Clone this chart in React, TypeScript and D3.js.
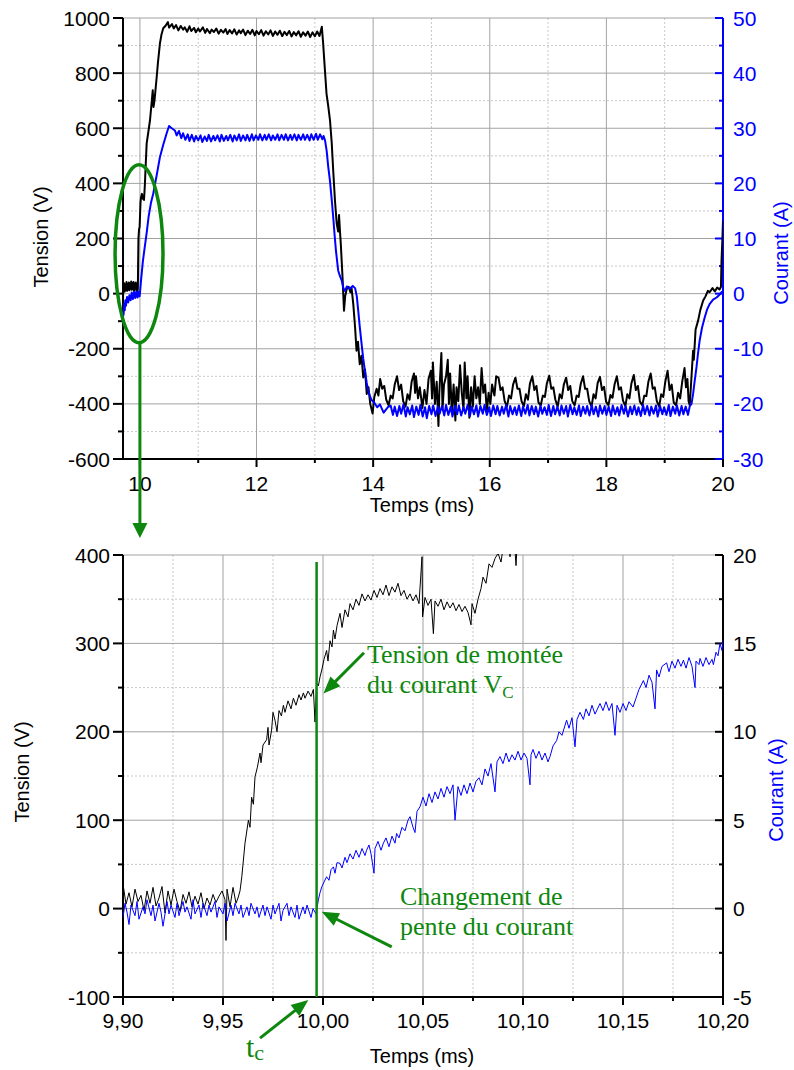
import React from "react";
import * as d3 from "d3";

type Pt = [number, number];

// ---------------- TOP CHART DATA ----------------
const topXDomain: [number, number] = [9.71, 20];
const topVDomain: [number, number] = [-600, 1000];
const topIDomain: [number, number] = [-30, 50];
const topXMajor = [10, 12, 14, 16, 18, 20];
const topXMinor = [11, 13, 15, 17, 19];
const topVMajor = [-600, -400, -200, 0, 200, 400, 600, 800, 1000];
const topVMinor = [-500, -300, -100, 100, 300, 500, 700, 900];
const topIMajor = [-30, -20, -10, 0, 10, 20, 30, 40, 50];
const topIMinor = [-25, -15, -5, 5, 15, 25, 35, 45];

const topVoltage: Pt[] = [
  [9.71, -25], [9.715, 28], [9.72, 5], [9.73, 38], [9.74, 8], [9.75, 32], [9.76, 12], [9.77, 42], [9.78, 10], [9.79, 35],
  [9.8, 15], [9.81, 40], [9.82, 12], [9.83, 36], [9.84, 18], [9.85, 44], [9.86, 14], [9.87, 38], [9.88, 16], [9.89, 42],
  [9.9, 10], [9.91, 36], [9.92, 18], [9.93, 40], [9.94, 12], [9.95, 34], [9.96, 8], [9.965, 20],
  [9.97, 120], [9.975, 200], [9.985, 232], [9.995, 243], [10.0, 270], [10.01, 330], [10.02, 350], [10.035, 362],
  [10.05, 345], [10.07, 340], [10.085, 395], [10.1, 470], [10.116, 545], [10.14, 580], [10.173, 629], [10.2, 690],
  [10.22, 738], [10.233, 677], [10.25, 700], [10.288, 786], [10.31, 840], [10.344, 909], [10.37, 940], [10.4, 963],
  [10.44, 972], [10.48, 985], [10.5, 965],
  [10.55, 978], [10.58, 962], [10.62, 974], [10.66, 955], [10.7, 971], [10.74, 958], [10.77, 966], [10.81, 950],
  [10.85, 970], [10.88, 953], [10.93, 964], [10.96, 948], [11.0, 962], [11.03, 951], [11.08, 966], [11.12, 946],
  [11.15, 960], [11.2, 945], [11.23, 958], [11.27, 949], [11.31, 962], [11.35, 943], [11.39, 957], [11.43, 947],
  [11.47, 960], [11.5, 942], [11.54, 956], [11.58, 944], [11.62, 959], [11.66, 940], [11.7, 955], [11.73, 945],
  [11.77, 958], [11.81, 938], [11.85, 954], [11.89, 942], [11.93, 957], [11.97, 937], [12.0, 953], [12.04, 941],
  [12.08, 956], [12.12, 936], [12.16, 952], [12.2, 940], [12.24, 955], [12.28, 935], [12.32, 951], [12.36, 939],
  [12.4, 954], [12.44, 934], [12.48, 950], [12.52, 938], [12.56, 953], [12.6, 933], [12.64, 949], [12.68, 937],
  [12.72, 952], [12.76, 932], [12.8, 948], [12.84, 936], [12.88, 951], [12.92, 931], [12.96, 948], [13.0, 934],
  [13.04, 951], [13.08, 935], [13.12, 968],
  [13.14, 915], [13.17, 820], [13.2, 726], [13.23, 680], [13.26, 629], [13.29, 545], [13.315, 447], [13.345, 338],
  [13.375, 254], [13.4, 225], [13.415, 285], [13.43, 230], [13.445, 181], [13.475, 59], [13.5, -62], [13.52, -10],
  [13.545, 15], [13.58, 25], [13.61, 5], [13.63, 20], [13.66, -40], [13.69, -122], [13.715, -207], [13.74, -175],
  [13.77, -256], [13.8, -225], [13.83, -304], [13.86, -275], [13.89, -364], [13.92, -340], [13.95, -400], [13.99, -435],
  [14.02, -375], [14.06, -345], [14.09, -370],
  [14.12, -310], [14.155, -345], [14.19, -335], [14.225, -385], [14.265, -405], [14.3, -370], [14.335, -380], [14.37, -330],
  [14.41, -300], [14.445, -350], [14.48, -330], [14.515, -390], [14.555, -410], [14.59, -365], [14.625, -385], [14.66, -320],
  [14.7, -290], [14.72, -360], [14.735, -300], [14.77, -380], [14.8, -340], [14.845, -415], [14.88, -350], [14.915, -400], [14.95, -310],
  [14.99, -280], [15.01, -380], [15.025, -250], [15.06, -400], [15.09, -320], [15.12, -480], [15.135, -360], [15.17, -215],
  [15.19, -420], [15.215, -330], [15.25, -300],
  [15.28, -240], [15.3, -400], [15.32, -290], [15.35, -430], [15.38, -330], [15.41, -460], [15.43, -340], [15.46, -390],
  [15.49, -260], [15.52, -360], [15.55, -420], [15.57, -250], [15.6, -380], [15.62, -300], [15.65, -450], [15.68, -340],
  [15.71, -410], [15.74, -300], [15.77, -380], [15.8, -340], [15.83, -400], [15.86, -270], [15.89, -360], [15.92, -330],
  [15.95, -430], [15.98, -360], [16.01, -400], [16.04, -330], [16.08, -370], [16.11, -300],
  [16.15, -305], [16.185, -350], [16.22, -340], [16.255, -390], [16.295, -410], [16.33, -370], [16.365, -380], [16.4, -330],
  [16.44, -305], [16.475, -345], [16.51, -345], [16.545, -390], [16.585, -408], [16.62, -365], [16.655, -385], [16.69, -325],
  [16.73, -300], [16.765, -350], [16.8, -335], [16.835, -395], [16.875, -405], [16.91, -370], [16.945, -375], [16.98, -325],
  [17.02, -298], [17.055, -345], [17.09, -340], [17.125, -385], [17.165, -410], [17.2, -365], [17.235, -380], [17.27, -330],
  [17.31, -305], [17.345, -350], [17.38, -335], [17.415, -390], [17.455, -405], [17.49, -370], [17.525, -375], [17.56, -328],
  [17.6, -300], [17.635, -345], [17.67, -345], [17.705, -390], [17.745, -410], [17.78, -365], [17.815, -380], [17.85, -325],
  [17.89, -302], [17.925, -350], [17.96, -338], [17.995, -392], [18.035, -405], [18.07, -368], [18.105, -378], [18.14, -330],
  [18.18, -300], [18.215, -348], [18.25, -340], [18.285, -388], [18.325, -408], [18.36, -365], [18.395, -380], [18.43, -325],
  [18.47, -295], [18.505, -350], [18.54, -335], [18.575, -392], [18.615, -405], [18.65, -370], [18.685, -372], [18.72, -320],
  [18.76, -290], [18.795, -345], [18.83, -340], [18.865, -390], [18.905, -410], [18.94, -365], [18.975, -375], [19.01, -320],
  [19.05, -280], [19.085, -350], [19.12, -330], [19.155, -395], [19.195, -405], [19.23, -360], [19.265, -380], [19.3, -320],
  [19.34, -270], [19.365, -340], [19.39, -310], [19.41, -390], [19.43, -405],
  [19.46, -300], [19.487, -207], [19.5, -240], [19.53, -130], [19.573, -98], [19.61, -60], [19.66, -25], [19.7, -10],
  [19.74, 10], [19.77, 5], [19.82, 20], [19.86, 8], [19.9, 22], [19.94, 15], [19.965, 25], [19.975, 120], [19.99, 200], [20.0, 265],
];

const topCurrent: Pt[] = [
  [9.71, -4.5], [9.715, -2.2], [9.72, -3.8], [9.73, -1.8], [9.74, -3.0], [9.75, -1.2], [9.76, -2.2], [9.78, -0.6],
  [9.8, -1.6], [9.82, -0.3], [9.84, -1.2], [9.86, 0.2], [9.88, -1.0], [9.9, 0.3], [9.92, -0.8], [9.94, 0.4], [9.96, -0.7],
  [9.98, 0.3], [9.995, -0.5],
  [10.0, 0], [10.02, 2.5], [10.05, 5.8], [10.08, 8.2], [10.116, 11.0], [10.15, 14.0], [10.19, 16.5], [10.23, 18.2],
  [10.29, 21.6], [10.344, 24.8], [10.4, 27.0], [10.459, 29.1], [10.5, 30.4], [10.545, 30.0],
  [10.6, 29.6], [10.63, 28.7], [10.67, 29.5], [10.71, 28.2], [10.74, 29.1], [10.78, 27.9], [10.82, 28.9], [10.85, 27.7],
  [10.89, 28.8], [10.93, 27.6], [10.96, 28.6], [11.0, 27.8], [11.04, 28.7], [11.07, 27.5], [11.11, 28.5], [11.15, 27.7],
  [11.18, 28.8], [11.22, 27.6], [11.26, 28.6], [11.29, 27.8], [11.33, 28.7], [11.37, 27.6], [11.4, 28.8], [11.44, 27.7],
  [11.48, 28.6], [11.51, 27.8], [11.55, 28.8], [11.59, 27.6], [11.62, 28.7], [11.66, 27.8], [11.7, 28.9], [11.73, 27.7],
  [11.77, 28.7], [11.81, 27.8], [11.84, 28.8], [11.88, 27.7], [11.92, 28.9], [11.95, 27.8], [11.99, 28.7], [12.03, 27.9],
  [12.06, 28.9], [12.1, 27.8], [12.14, 28.8], [12.17, 27.9], [12.21, 28.9], [12.25, 27.8], [12.28, 28.7], [12.32, 27.9],
  [12.36, 28.9], [12.39, 27.8], [12.43, 28.8], [12.47, 27.9], [12.5, 28.9], [12.54, 27.8], [12.58, 28.8], [12.61, 27.9],
  [12.65, 28.9], [12.69, 27.8], [12.72, 28.8], [12.76, 27.9], [12.8, 28.9], [12.83, 27.9], [12.87, 28.8], [12.91, 27.8],
  [12.94, 28.9], [12.98, 27.9], [13.02, 29.0], [13.05, 27.9], [13.09, 28.9], [13.13, 28.0], [13.15, 28.6],
  [13.175, 27.8], [13.202, 26], [13.23, 23], [13.259, 20.5], [13.29, 17], [13.315, 13.9], [13.34, 10.5], [13.362, 7.8],
  [13.4, 4.2], [13.43, 3.2], [13.46, 2.4], [13.49, 1.0], [13.516, 0.5], [13.55, 1.3], [13.6, 0.9], [13.65, 1.4],
  [13.69, 1.0], [13.72, -0.5], [13.744, -3.1], [13.77, -6], [13.802, -9.1], [13.83, -11.8], [13.859, -14], [13.89, -16.2],
  [13.915, -17.6], [13.945, -18.6], [13.973, -19.3], [14.02, -19.8], [14.07, -20.6], [14.116, -20.1], [14.18, -21.6],
  [14.253, -20.6],
  [14.3, -20.3], [14.34, -22.0], [14.37, -20.5], [14.41, -22.2], [14.45, -20.4], [14.48, -21.8], [14.52, -20.1], [14.56, -22.3],
  [14.59, -20.6], [14.63, -21.9], [14.67, -20.3], [14.7, -22.4], [14.74, -20.5], [14.78, -22.0], [14.81, -20.2], [14.85, -22.3],
  [14.89, -20.6], [14.92, -22.6], [14.96, -20.4], [15.0, -21.9], [15.03, -20.3], [15.07, -22.2], [15.11, -20.5], [15.14, -21.8],
  [15.18, -20.4], [15.22, -22.1], [15.25, -20.2], [15.29, -22.0], [15.33, -20.5], [15.36, -22.3], [15.4, -20.4], [15.44, -21.9],
  [15.47, -20.3], [15.51, -22.1], [15.55, -20.6], [15.58, -21.8], [15.62, -20.2], [15.66, -22.2], [15.69, -20.5], [15.73, -21.9],
  [15.77, -20.3], [15.8, -22.3], [15.84, -20.4], [15.88, -21.8], [15.91, -20.2], [15.95, -22.0], [15.99, -20.6], [16.02, -22.2],
  [16.06, -20.3], [16.1, -21.9], [16.13, -20.4], [16.17, -22.1], [16.21, -20.5], [16.24, -21.8], [16.28, -20.2], [16.32, -22.3],
  [16.35, -20.4], [16.39, -21.9], [16.43, -20.6], [16.46, -22.0], [16.5, -20.3], [16.54, -22.2], [16.57, -20.5], [16.61, -21.8],
  [16.65, -20.2], [16.68, -22.1], [16.72, -20.4], [16.76, -21.9], [16.79, -20.5], [16.83, -22.3], [16.87, -20.3], [16.9, -21.8],
  [16.94, -20.6], [16.98, -22.0], [17.01, -20.2], [17.05, -22.2], [17.09, -20.4], [17.12, -21.9], [17.16, -20.5], [17.2, -22.1],
  [17.23, -20.3], [17.27, -21.8], [17.31, -20.4], [17.34, -22.3], [17.38, -20.2], [17.42, -21.9], [17.45, -20.6], [17.49, -22.0],
  [17.53, -20.3], [17.56, -22.2], [17.6, -20.5], [17.64, -21.8], [17.67, -20.4], [17.71, -22.1], [17.75, -20.2], [17.78, -21.9],
  [17.82, -20.5], [17.86, -22.3], [17.89, -20.3], [17.93, -21.8], [17.97, -20.4], [18.0, -22.0], [18.04, -20.5], [18.08, -22.2],
  [18.11, -20.3], [18.15, -21.9], [18.19, -20.6], [18.22, -22.1], [18.26, -20.2], [18.3, -21.8], [18.33, -20.4], [18.37, -22.3],
  [18.41, -20.5], [18.44, -21.9], [18.48, -20.3], [18.52, -22.0], [18.55, -20.6], [18.59, -22.2], [18.63, -20.2], [18.66, -21.9],
  [18.7, -20.4], [18.74, -22.1], [18.77, -20.5], [18.81, -21.8], [18.85, -20.3], [18.88, -22.3], [18.92, -20.4], [18.96, -21.9],
  [18.99, -20.6], [19.03, -22.0], [19.07, -20.2], [19.1, -22.2], [19.14, -20.5], [19.18, -21.8], [19.21, -20.3], [19.25, -22.1],
  [19.29, -20.4], [19.32, -21.9], [19.36, -20.5], [19.4, -22.0],
  [19.43, -20.4], [19.46, -20.0], [19.487, -18.2], [19.515, -15.8], [19.545, -13.4], [19.57, -11], [19.6, -8.5],
  [19.64, -6.2], [19.687, -4.3], [19.73, -2.8], [19.77, -1.9], [19.83, -1.1], [19.89, -0.7], [19.94, -0.2], [19.98, 0.3],
  [20.0, 0.5],
];

// ---------------- BOTTOM CHART DATA ----------------
const botXDomain: [number, number] = [9.9, 10.2];
const botVDomain: [number, number] = [-100, 400];
const botIDomain: [number, number] = [-5, 20];
const botXMajor = [9.9, 9.95, 10.0, 10.05, 10.1, 10.15, 10.2];
const botXMinor = [9.925, 9.975, 10.025, 10.075, 10.125, 10.175];
const botVMajor = [-100, 0, 100, 200, 300, 400];
const botVMinor = [-50, 50, 150, 250, 350];
const botIMajor = [-5, 0, 5, 10, 15, 20];
const botIMinor = [-2.5, 2.5, 7.5, 12.5, 17.5];

const botVoltage: Pt[] = [
  [9.9, 28], [9.9015, 5], [9.903, 18], [9.9045, 2], [9.906, 22], [9.9075, 8], [9.909, 15], [9.9105, -2], [9.912, 20],
  [9.9135, 6], [9.915, 24], [9.9165, 3], [9.918, 12], [9.9195, 25], [9.921, -5], [9.9225, 20], [9.924, 4], [9.9255, 22],
  [9.927, 8], [9.9285, -3], [9.93, 16], [9.9315, 6], [9.933, 19], [9.9345, 2], [9.936, 14], [9.9375, 5], [9.939, 18],
  [9.9405, 0], [9.942, 12], [9.9435, 4], [9.945, 16], [9.9465, 7], [9.948, 14], [9.9495, 20], [9.951, 10], [9.9515, -36],
  [9.952, 22], [9.9535, 2], [9.955, 24], [9.9565, 6], [9.9575, 12],
  [9.9585, 20], [9.9594, 36], [9.961, 74], [9.9627, 100], [9.9635, 92], [9.9643, 126], [9.9652, 118], [9.966, 149],
  [9.9672, 160], [9.9685, 176], [9.969, 165], [9.97, 185], [9.9718, 191], [9.9725, 205], [9.973, 185], [9.9743, 202],
  [9.975, 222], [9.976, 213], [9.977, 200], [9.978, 224], [9.9792, 218], [9.9802, 230], [9.981, 222], [9.9825, 235],
  [9.984, 226], [9.9852, 238], [9.9865, 230], [9.988, 242], [9.989, 236], [9.9902, 244], [9.991, 238], [9.9925, 246],
  [9.994, 240], [9.9952, 248], [9.996, 211], [9.9968, 255], [9.9977, 252], [9.9985, 262], [9.9994, 270], [10.0005, 282],
  [10.0018, 292], [10.0025, 280], [10.0035, 303], [10.0045, 296], [10.0052, 315], [10.006, 305], [10.007, 320],
  [10.0085, 334], [10.0095, 318], [10.011, 338], [10.0125, 330], [10.0135, 345], [10.015, 338], [10.0165, 350],
  [10.018, 343], [10.0195, 356], [10.021, 348], [10.0225, 355], [10.024, 349], [10.0255, 360], [10.027, 352],
  [10.0285, 362], [10.03, 355], [10.0315, 366], [10.033, 354], [10.0345, 364], [10.036, 358], [10.0375, 368],
  [10.039, 354], [10.0405, 360], [10.042, 350], [10.0435, 356], [10.045, 348], [10.0465, 355], [10.048, 345],
  [10.0495, 398], [10.0498, 330], [10.051, 352], [10.0525, 343], [10.054, 350], [10.0552, 311], [10.056, 348],
  [10.0575, 342], [10.059, 350], [10.0605, 338], [10.062, 347], [10.0635, 340], [10.065, 346], [10.0665, 337],
  [10.068, 344], [10.0695, 336], [10.071, 342], [10.0725, 335], [10.074, 321], [10.0745, 345], [10.076, 334],
  [10.0775, 350], [10.079, 362], [10.08, 375], [10.0815, 368], [10.083, 390], [10.0845, 386], [10.086, 396],
  [10.0875, 402], [10.089, 392], [10.0905, 415], [10.092, 430], [10.0935, 398], [10.095, 440], [10.0965, 388],
  [10.098, 450], [10.1, 470],
];

const botCurrent: Pt[] = [
  [9.9, -0.5], [9.901, 0.3], [9.902, -0.2], [9.903, -0.9], [9.904, 0.2], [9.906, -0.4], [9.907, 0.4], [9.908, -0.6],
  [9.91, 0.1], [9.911, -0.3], [9.912, 0.5], [9.914, -0.4], [9.915, 0.2], [9.916, -0.7], [9.918, 0.3], [9.919, -0.2],
  [9.92, -1.0], [9.922, 0.4], [9.923, -0.3], [9.924, 0.2], [9.926, -0.5], [9.927, 0.3], [9.928, -0.4], [9.93, 0.4],
  [9.931, -0.2], [9.932, 0.1], [9.934, -0.6], [9.935, 0.5], [9.936, -0.3], [9.938, 0.2], [9.939, -0.5], [9.94, 0.3],
  [9.942, -0.4], [9.943, 0.2], [9.944, -0.2], [9.946, 0.4], [9.947, -0.5], [9.948, 0.1], [9.95, -0.3], [9.951, 0.3],
  [9.952, -0.7], [9.954, 0.2], [9.955, -0.4], [9.956, 0.3], [9.958, -0.3], [9.959, 0.2], [9.96, -0.5], [9.962, 0.1],
  [9.963, -0.4], [9.964, 0.3], [9.966, -0.3], [9.967, 0.1], [9.968, -0.5], [9.97, 0.2], [9.971, -0.4], [9.972, 0.1],
  [9.974, -0.6], [9.975, 0.2], [9.976, -0.3], [9.978, 0.3], [9.979, -0.7], [9.98, -0.1], [9.982, 0.3], [9.983, -0.4],
  [9.984, 0.1], [9.986, -0.5], [9.987, 0.2], [9.988, -0.6], [9.99, 0.1], [9.991, -0.3], [9.992, 0.2], [9.994, -0.5],
  [9.995, 0.0], [9.9965, -0.3],
  [9.9977, 0.5], [9.9985, 0.9], [9.9994, 1.23], [10.0005, 1.5], [10.0018, 1.8], [10.003, 1.6], [10.004, 2.2],
  [10.0052, 2.36], [10.006, 2.0], [10.007, 2.6], [10.0085, 2.56], [10.0095, 2.3], [10.011, 2.9], [10.012, 2.6],
  [10.0135, 3.1], [10.015, 2.8], [10.0165, 3.3], [10.018, 2.9], [10.0195, 3.4], [10.021, 3.0], [10.0218, 3.3],
  [10.023, 3.6], [10.024, 3.1], [10.0255, 2.0], [10.026, 3.4], [10.0275, 3.8], [10.029, 3.3], [10.0302, 3.7],
  [10.0315, 4.0], [10.033, 3.5], [10.0345, 4.1], [10.036, 3.7], [10.0368, 4.25], [10.038, 4.0], [10.0395, 4.6],
  [10.041, 4.4], [10.0425, 5.0], [10.0435, 5.2], [10.045, 4.6], [10.046, 4.3], [10.047, 5.5], [10.0485, 5.76],
  [10.05, 6.3], [10.0515, 5.8], [10.053, 6.5], [10.0545, 6.0], [10.056, 6.6], [10.0575, 6.2], [10.059, 6.8],
  [10.0605, 6.3], [10.062, 6.9], [10.0635, 6.5], [10.065, 7.0], [10.066, 5.0], [10.0675, 6.9], [10.069, 6.4],
  [10.0705, 7.0], [10.072, 6.5], [10.0735, 7.1], [10.075, 6.6], [10.0765, 7.2], [10.078, 7.4], [10.0795, 7.0],
  [10.081, 7.9], [10.0825, 7.5], [10.084, 8.2], [10.086, 6.6], [10.087, 8.3], [10.0885, 8.6], [10.09, 8.2],
  [10.0915, 8.8], [10.093, 8.3], [10.0945, 8.7], [10.096, 8.4], [10.0975, 8.9], [10.099, 8.4], [10.1005, 8.8],
  [10.102, 8.5], [10.1035, 7.0], [10.104, 8.7], [10.105, 9.0], [10.1065, 8.5], [10.108, 8.9], [10.1095, 8.4],
  [10.111, 8.8], [10.1125, 8.3], [10.1135, 8.6], [10.115, 9.2], [10.1168, 9.5], [10.118, 10.0], [10.1195, 9.8],
  [10.1218, 10.66], [10.123, 10.2], [10.1245, 10.8], [10.126, 9.15], [10.127, 10.7], [10.1285, 11.1], [10.1302, 10.7],
  [10.1315, 11.3], [10.133, 10.9], [10.1345, 11.5], [10.136, 11.0], [10.1385, 11.6], [10.14, 11.2], [10.1415, 11.7],
  [10.143, 11.2], [10.1445, 11.6], [10.146, 9.8], [10.147, 11.5], [10.1485, 11.1], [10.15, 11.6], [10.1515, 11.2],
  [10.153, 11.7], [10.155, 11.4], [10.1565, 11.9], [10.158, 12.4], [10.1602, 12.9], [10.1615, 12.5], [10.163, 13.2],
  [10.1645, 12.8], [10.166, 11.3], [10.1668, 13.5], [10.168, 13.1], [10.1695, 13.7], [10.1718, 13.9], [10.173, 13.4],
  [10.1745, 14.0], [10.176, 13.6], [10.1775, 14.1], [10.179, 13.7], [10.1802, 14.05], [10.1815, 13.6], [10.183, 14.2],
  [10.1845, 13.7], [10.186, 12.5], [10.1865, 14.0], [10.188, 13.8], [10.1885, 14.15], [10.19, 13.7], [10.1915, 14.2],
  [10.193, 13.8], [10.1945, 14.1], [10.1952, 13.8], [10.1965, 14.5], [10.1975, 14.3], [10.1985, 15.0], [10.1995, 14.6],
  [10.2, 15.2],
];

// annotation anchors (data units of the bottom chart)
const tcTime = 9.9968;

const GREEN = "#0d870d";
const BLUE = "#0000ff";
const SANS = "'Liberation Sans', Arial, Helvetica, sans-serif";
const SERIF = "'Liberation Serif', 'Times New Roman', serif";

function Arrow({ x1, y1, x2, y2, w = 3, head = 16, hw = 15, color = GREEN }: any) {
  const dx = x2 - x1, dy = y2 - y1;
  const L = Math.hypot(dx, dy);
  const ux = dx / L, uy = dy / L;
  const bx = x2 - ux * head, by = y2 - uy * head;
  const px = -uy, py = ux;
  return (
    <g>
      <line x1={x1} y1={y1} x2={bx + ux * 2} y2={by + uy * 2} stroke={color} strokeWidth={w} />
      <path
        d={`M${x2},${y2}L${bx + (px * hw) / 2},${by + (py * hw) / 2}L${bx - (px * hw) / 2},${by - (py * hw) / 2}Z`}
        fill={color}
      />
    </g>
  );
}

function Panel(props: any) {
  const { id, x, yL, yR, xMajor, xMinor, xFmt, yLMajor, yLMinor, yRMajor, yRMinor, rightColor, series,
    xLabelY, xTitleY, leftTitle, rightTitle, lineWidth } = props;
  const [x0, x1] = x.range();
  const [yb, yt] = yL.range();
  const fs = 21;
  return (
    <g>
      <defs>
        <clipPath id={id}>
          <rect x={x0} y={yt - 1} width={x1 - x0} height={yb - yt + 2} />
        </clipPath>
      </defs>
      {/* minor grid */}
      {xMinor.map((v: number) => (
        <line key={"xm" + v} x1={x(v)} x2={x(v)} y1={yt} y2={yb} stroke="#c8c8c8" strokeDasharray="2,2" />
      ))}
      {yLMinor.map((v: number) => (
        <line key={"ym" + v} x1={x0} x2={x1} y1={yL(v)} y2={yL(v)} stroke="#c8c8c8" strokeDasharray="2,2" />
      ))}
      {/* major grid */}
      {xMajor.filter((v: number) => x(v) > x0 + 1 && x(v) < x1 - 1).map((v: number) => (
        <line key={"xM" + v} x1={x(v)} x2={x(v)} y1={yt} y2={yb} stroke="#a2a2a2" />
      ))}
      {yLMajor.filter((v: number) => yL(v) < yb - 1).map((v: number) => (
        <line key={"yM" + v} x1={x0} x2={x1} y1={yL(v)} y2={yL(v)} stroke="#a2a2a2" />
      ))}
      {/* axes */}
      <line x1={x0} x2={x0} y1={yt} y2={yb + 1} stroke="#000" strokeWidth={2} />
      <line x1={x0 - 1} x2={x1 + 1} y1={yb} y2={yb} stroke="#000" strokeWidth={2} />
      <line x1={x1} x2={x1} y1={yt} y2={yb + 1} stroke={rightColor} strokeWidth={2} />
      {/* left ticks */}
      {yLMajor.map((v: number) => (
        <g key={"lt" + v}>
          <line x1={x0 - 10} x2={x0} y1={yL(v)} y2={yL(v)} stroke="#000" strokeWidth={2} />
          <text x={x0 - 13} y={yL(v)} dy="0.36em" textAnchor="end" fontSize={fs} fill="#000">{v}</text>
        </g>
      ))}
      {yLMinor.map((v: number) => (
        <line key={"ltm" + v} x1={x0 - 5} x2={x0} y1={yL(v)} y2={yL(v)} stroke="#000" strokeWidth={2} />
      ))}
      {/* right ticks */}
      {yRMajor.map((v: number) => (
        <g key={"rt" + v}>
          <line x1={x1 - 8} x2={x1} y1={yR(v)} y2={yR(v)} stroke={rightColor} strokeWidth={2} />
          <text x={x1 + 10} y={yR(v)} dy="0.36em" textAnchor="start" fontSize={fs} fill={rightColor}>{v}</text>
        </g>
      ))}
      {yRMinor.map((v: number) => (
        <line key={"rtm" + v} x1={x1 - 4} x2={x1} y1={yR(v)} y2={yR(v)} stroke={rightColor} strokeWidth={2} />
      ))}
      {/* bottom ticks */}
      {xMajor.map((v: number) => (
        <g key={"bt" + v}>
          <line x1={x(v)} x2={x(v)} y1={yb} y2={yb + 8} stroke="#000" strokeWidth={2} />
          <text x={x(v)} y={xLabelY} textAnchor="middle" fontSize={fs} fill="#000">{xFmt(v)}</text>
        </g>
      ))}
      {xMinor.map((v: number) => (
        <line key={"btm" + v} x1={x(v)} x2={x(v)} y1={yb} y2={yb + 4} stroke="#000" strokeWidth={2} />
      ))}
      {/* titles */}
      <text x={(x0 + x1) / 2 - 1} y={xTitleY} textAnchor="middle" fontSize={fs - 1} fill="#000">Temps (ms)</text>
      <text transform={`translate(${leftTitle[0]},${leftTitle[1]}) rotate(-90)`} textAnchor="middle" fontSize={fs - 1} fill="#000">
        Tension (V)
      </text>
      <text transform={`translate(${rightTitle[0]},${rightTitle[1]}) rotate(-90)`} textAnchor="middle" fontSize={fs - 1} fill={BLUE}>
        Courant (A)
      </text>
      {/* series */}
      <g clipPath={`url(#${id})`}>
        {series.map((s: any, i: number) => {
          const gen = d3.line<Pt>().x((d) => x(d[0])).y((d) => s.y(d[1]));
          return (
            <path key={i} d={gen(s.data) || ""} fill="none" stroke={s.color} strokeWidth={lineWidth}
              strokeLinejoin="round" />
          );
        })}
      </g>
    </g>
  );
}

export default function App() {
  // top chart scales
  const tX = d3.scaleLinear().domain(topXDomain).range([123, 723]);
  const tV = d3.scaleLinear().domain(topVDomain).range([459, 18]);
  const tI = d3.scaleLinear().domain(topIDomain).range([459, 18]);
  // bottom chart scales
  const bX = d3.scaleLinear().domain(botXDomain).range([123, 723]);
  const bV = d3.scaleLinear().domain(botVDomain).range([997, 555]);
  const bI = d3.scaleLinear().domain(botIDomain).range([997, 555]);

  const fmtTop = (v: number) => d3.format("d")(v);
  const fmtBot = (v: number) => d3.format(".2f")(v).replace(".", ",");

  // ellipse around the switching event in the top chart (data units)
  const eCx = tX(9.985), eCy = tV(145);
  const eRx = tX(10.396) - tX(9.985);
  const eRy = tV(-178) - tV(145);

  return (
    <svg width={794} height={1070} style={{ position: "absolute", left: 0, top: 0 }} fontFamily={SANS}>
      <rect x={0} y={0} width={794} height={1070} fill="#fff" />
      <Panel
        id="clipTop" x={tX} yL={tV} yR={tI}
        xMajor={topXMajor} xMinor={topXMinor} xFmt={fmtTop}
        yLMajor={topVMajor} yLMinor={topVMinor} yRMajor={topIMajor} yRMinor={topIMinor}
        rightColor={BLUE} lineWidth={2}
        series={[{ data: topVoltage, y: tV, color: "#000" }, { data: topCurrent, y: tI, color: BLUE }]}
        xLabelY={491} xTitleY={512} leftTitle={[48, 237]} rightTitle={[788, 253]}
      />
      <Panel
        id="clipBot" x={bX} yL={bV} yR={bI}
        xMajor={botXMajor} xMinor={botXMinor} xFmt={fmtBot}
        yLMajor={botVMajor} yLMinor={botVMinor} yRMajor={botIMajor} yRMinor={botIMinor}
        rightColor="#000" lineWidth={1}
        series={[{ data: botVoltage, y: bV, color: "#000" }, { data: botCurrent, y: bI, color: BLUE }]}
        xLabelY={1028} xTitleY={1063} leftTitle={[29, 772]} rightTitle={[783, 790]}
      />
      {/* top annotation: ellipse and arrow */}
      <ellipse cx={eCx} cy={eCy} rx={eRx} ry={eRy} fill="none" stroke={GREEN} strokeWidth={3.5} />
      <Arrow x1={tX(10.0)} y1={eCy + eRy} x2={tX(10.0)} y2={bV(400) - 17} w={3} head={15} hw={15} />
      {/* bottom annotations */}
      <line x1={bX(tcTime)} x2={bX(tcTime)} y1={bV(392)} y2={bV(-100)} stroke={GREEN} strokeWidth={2.5} />
      <Arrow x1={bX(10.0205)} y1={bV(289.4)} x2={bX(10.0002)} y2={bV(243.4)} w={3} head={17} hw={14} />
      <Arrow x1={bX(10.03435)} y1={bV(-43.2)} x2={bX(9.99935)} y2={bV(-3.6)} w={3} head={17} hw={14} />
      <Arrow x1={bX(9.9685)} y1={bV(-146.5)} x2={bX(9.99265)} y2={bV(-103.5)} w={3} head={17} hw={14} />
      <g fontFamily={SERIF} fill={GREEN} fontSize={26}>
        <text x={bX(10.022)} y={bV(277.7)}>Tension de montée</text>
        <text x={bX(10.022)} y={bV(243.8)}>
          du courant V<tspan fontSize={17} dy={5}>C</tspan>
        </text>
        <text x={bX(10.0385)} y={bV(4)}>Changement de</text>
        <text x={bX(10.0385)} y={bV(-30)}>pente du courant</text>
        <text x={bX(9.9615)} y={bV(-168)} fontSize={30}>
          t<tspan fontSize={22} dy={3}>c</tspan>
        </text>
      </g>
    </svg>
  );
}
